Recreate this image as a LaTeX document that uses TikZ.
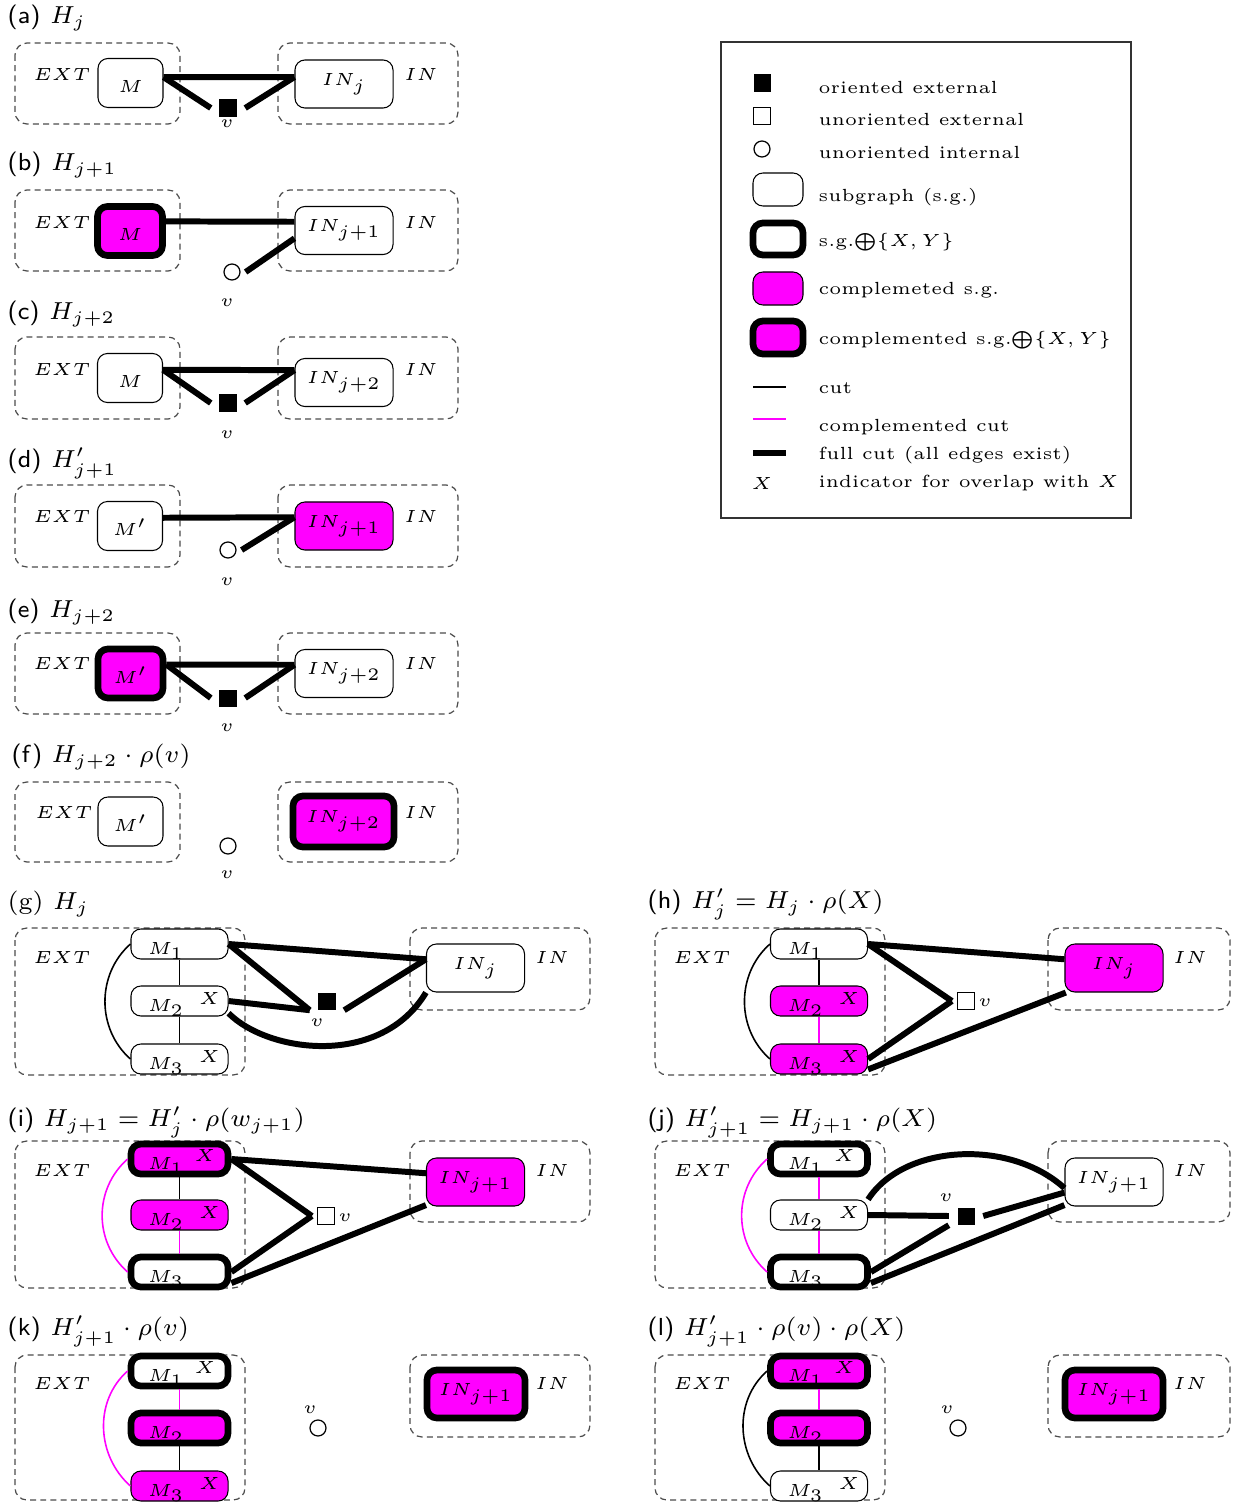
\documentclass[tikz,border=0pt]{standalone}
\usepackage{amsmath}
\usepackage{tikz}
\usetikzlibrary{calc}
\definecolor{cmag}{RGB}{255,0,255}

\begin{document}
\begin{tikzpicture}[x=0.01cm, y=-0.01cm,
  font=\fontsize{5}{6}\selectfont,
  zone/.style={draw=black!70, line width=0.35pt, dash pattern=on 1.7pt off 1.2pt, rounded corners=0.12cm},
  ttl/.style={anchor=west, inner sep=0pt, font=\fontsize{7}{8.4}\selectfont},
  txt/.style={inner sep=0pt},
  sg/.style={draw, line width=0.3pt, rounded corners=0.1cm, inner sep=0pt, fill=white},
  sgxy/.style={line width=1.9pt},
  compl/.style={fill=cmag},
  mbig/.style={sg, minimum width=0.65cm, minimum height=0.49cm, text height=5.6pt, text depth=0pt},
  inbig/.style={sg, minimum width=0.98cm, minimum height=0.48cm},
  msg/.style={sg, minimum height=0.30cm, text width=0.63cm, align=left, inner xsep=0.17cm, inner ysep=0pt, text height=6pt, text depth=0pt},
  ovl/.style={label={[name=#1, anchor=center, inner sep=0pt, xshift=0.3cm, yshift=0.03cm]center:$X$}},
  ovlk/.style={label={[name=#1, anchor=center, inner sep=0pt, xshift=0.255cm, yshift=0.04cm]center:$X$}},
  oext/.style={fill=black, minimum size=0.17cm, inner sep=0pt},
  uext/.style={draw, line width=0.35pt, fill=white, minimum size=0.17cm, inner sep=0pt},
  uint/.style={circle, draw, line width=0.35pt, fill=white, minimum size=0.16cm, inner sep=0pt},
  cutl/.style={line width=0.45pt},
  ccutl/.style={cutl, draw=cmag},
  fullcut/.style={line width=1.7pt}
]
\useasboundingbox (0,0) rectangle (1239,1503);

% (a)
\node[ttl] (ta) at (7,18) {\textsf{(a)} $H_j$};
\draw[zone] (15,43) rectangle (180,124);
\draw[zone] (278,43) rectangle (458,124);
\node[txt] (aext) at (62,74) {$EXT$};
\node[txt] (ain) at (421,74) {$IN$};
\node[mbig] (am) at (130.5,83) {$M$};
\node[inbig] (abox) at (344,84) {$IN_j$};
\node[oext] (av) at (228,108) {};
\node[txt] (avl) at (227,124) {$v$};
\draw[fullcut] (am.10) -- (abox.172);
\draw[fullcut] (am.10) -- ([xshift=-0.08cm]av.west);
\draw[fullcut] ([xshift=0.08cm]av.east) -- (abox.172);

% (b)
\node[ttl] (tb) at (7,165) {\textsf{(b)} $H_{j+1}$};
\draw[zone] (15,190) rectangle (180,271);
\draw[zone] (278,190) rectangle (458,271);
\node[txt] (bext) at (62,222) {$EXT$};
\node[txt] (bin) at (421,222) {$IN$};
\node[mbig, compl, sgxy] (bm) at (130,231) {$M$};
\node[inbig] (bbox) at (344,230.5) {$IN_{j+1}$};
\node[uint] (bv) at (232,272) {};
\node[txt] (bvl) at (227,303) {$v$};
\draw[fullcut] (bm.15) -- (bbox.170);
\draw[fullcut] ([xshift=0.05cm]bv.east) -- (bbox.189);

% (c)
\node[ttl] (tc) at (7,314) {\textsf{(c)} $H_{j+2}$};
\draw[zone] (15,337) rectangle (180,419);
\draw[zone] (278,337) rectangle (458,419);
\node[txt] (cext) at (62,369) {$EXT$};
\node[txt] (cin) at (421,369) {$IN$};
\node[mbig] (cm) at (130,378) {$M$};
\node[inbig] (cbox) at (344,382.5) {$IN_{j+2}$};
\node[oext] (cv) at (228,403) {};
\node[txt] (cvl) at (227,435) {$v$};
\draw[fullcut] (cm.14) -- (cbox.166);
\draw[fullcut] (cm.14) -- ([xshift=-0.08cm]cv.west);
\draw[fullcut] ([xshift=0.08cm]cv.east) -- (cbox.166);

% (d)
\node[ttl] (td) at (7,463) {\textsf{(d)} $H'_{j+1}$};
\draw[zone] (15,485) rectangle (180,567);
\draw[zone] (278,485) rectangle (458,567);
\node[txt] (dext) at (62,516) {$EXT$};
\node[txt] (din) at (421,516) {$IN$};
\node[mbig] (dm) at (130,526) {$M'$};
\node[inbig, compl] (dbox) at (344,526) {$IN_{j+1}$};
\node[uint] (dv) at (228,550) {};
\node[txt] (dvl) at (227,582) {$v$};
\draw[fullcut] (dm.14) -- (dbox.170);
\draw[fullcut] ([xshift=0.05cm]dv.east) -- (dbox.170);

% (e)
\node[ttl] (te) at (7,612) {\textsf{(e)} $H_{j+2}$};
\draw[zone] (15,633) rectangle (180,714);
\draw[zone] (278,633) rectangle (458,714);
\node[txt] (eext) at (62,663) {$EXT$};
\node[txt] (ein) at (421,663) {$IN$};
\node[mbig, compl, sgxy] (em) at (130.5,673.5) {$M'$};
\node[inbig] (ebox) at (344,673.5) {$IN_{j+2}$};
\node[oext] (ev) at (228,698) {};
\node[txt] (evl) at (227,728) {$v$};
\draw[fullcut] (em.14) -- (ebox.170);
\draw[fullcut] (em.14) -- ([xshift=-0.08cm]ev.west);
\draw[fullcut] ([xshift=0.08cm]ev.east) -- (ebox.170);

% (f)
\node[ttl] (tf) at (11,757) {\textsf{(f)} $H_{j+2}\cdot\rho(v)$};
\draw[zone] (15,782) rectangle (180,862);
\draw[zone] (278,782) rectangle (458,862);
\node[txt] (fext) at (64,812) {$EXT$};
\node[txt] (fin) at (421,812) {$IN$};
\node[mbig] (fm) at (130.5,821.5) {$M'$};
\node[inbig, compl, sgxy, minimum width=1.01cm, minimum height=0.51cm] (fbox) at (343.5,821.5) {$IN_{j+2}$};
\node[uint] (fv) at (228,846) {};
\node[txt] (fvl) at (227,875) {$v$};

% (g)
\node[ttl] (tg) at (7,904) {(g) $H_j$};
\draw[zone] (15,928) rectangle (245,1075);
\draw[zone] (410,928) rectangle (590,1010);
\node[txt] (gext) at (62,957) {$EXT$};
\node[txt] (gin) at (552,957) {$IN$};
\node[msg] (gm1) at (179.5,944) {$M_1$};
\node[msg, ovl=gx2] (gm2) at (179.5,1001) {$M_2$};
\node[msg, ovl=gx3] (gm3) at (179.5,1059) {$M_3$};
\node[inbig] (gbox) at (475.5,968) {$IN_j$};
\node[oext] (gv) at (327,1001) {};
\node[txt] (gvl) at (317,1023) {$v$};
\draw[cutl] (gm1) -- (gm2);
\draw[cutl] (gm2) -- (gm3);
\draw[cutl] (gm1.west) .. controls +(-34,30) and +(-34,-30) .. (gm3.west);
\draw[fullcut] (gm1.east) -- (gbox.170);
\draw[fullcut] (gm1.east) -- ([xshift=-0.08cm]gv.south west);
\draw[fullcut] (gm2.east) -- ([xshift=-0.08cm]gv.south west);
\draw[fullcut] ([xshift=0.08cm]gv.south east) -- (gbox.170);
\draw[fullcut] (gm2.-14) .. controls +(40,40) and +(-45,75) .. (gbox.south west);

% (h)
\node[ttl] (th) at (647,904) {\textsf{(h)} $H'_j = H_j\cdot\rho(X)$};
\draw[zone] (655,928) rectangle (885,1075);
\draw[zone] (1048,928) rectangle (1230,1010);
\node[txt] (hext) at (702,957) {$EXT$};
\node[txt] (hin) at (1190,957) {$IN$};
\node[msg] (hm1) at (819,944) {$M_1$};
\node[msg, compl, ovl=hx2] (hm2) at (819,1001) {$M_2$};
\node[msg, compl, ovl=hx3] (hm3) at (819,1059) {$M_3$};
\node[inbig, compl] (hbox) at (1114,968) {$IN_j$};
\node[uext] (hv) at (966,1001) {};
\node[txt] (hvl) at (985,1003) {$v$};
\draw[cutl] (hm1) -- (hm2);
\draw[ccutl] (hm2) -- (hm3);
\draw[cutl] (hm1.west) .. controls +(-34,30) and +(-34,-30) .. (hm3.west);
\draw[fullcut] (hm1.east) -- (hbox.170);
\draw[fullcut] (hm1.east) -- ([xshift=-0.05cm]hv.west);
\draw[fullcut] (hm3.east) -- ([xshift=-0.05cm]hv.west);
\draw[fullcut] (hm3.-12) -- (hbox.207);

% (i)
\node[ttl] (ti) at (7,1122) {\textsf{(i)} $H_{j+1} = H'_j\cdot\rho(w_{j+1})$};
\draw[zone] (15,1141) rectangle (245,1288);
\draw[zone] (410,1141) rectangle (590,1222);
\node[txt] (iext) at (62,1170) {$EXT$};
\node[txt] (iin) at (552,1170) {$IN$};
\node[msg, compl, sgxy, ovlk=ix1] (im1) at (179.5,1159) {$M_1$};
\node[msg, compl, ovl=ix2] (im2) at (179.5,1215) {$M_2$};
\node[msg, sgxy] (im3) at (179.5,1272) {$M_3$};
\node[inbig, compl] (ibox) at (475.5,1182) {$IN_{j+1}$};
\node[uext] (iv) at (326,1216) {};
\node[txt] (ivl) at (345,1218) {$v$};
\draw[cutl] (im1) -- (im2);
\draw[ccutl] (im2) -- (im3);
\draw[ccutl] (im1.west) .. controls +(-34,30) and +(-34,-30) .. (im3.west);
\draw[fullcut] (im1.east) -- (ibox.170);
\draw[fullcut] (im1.east) -- ([xshift=-0.05cm]iv.west);
\draw[fullcut] (im3.east) -- ([xshift=-0.05cm]iv.west);
\draw[fullcut] (im3.-12) -- (ibox.205);

% (j)
\node[ttl] (tj) at (647,1122) {\textsf{(j)} $H'_{j+1} = H_{j+1}\cdot\rho(X)$};
\draw[zone] (655,1141) rectangle (885,1288);
\draw[zone] (1048,1141) rectangle (1230,1222);
\node[txt] (jext) at (702,1170) {$EXT$};
\node[txt] (jin) at (1190,1170) {$IN$};
\node[msg, sgxy, ovlk=jx1] (jm1) at (819,1159) {$M_1$};
\node[msg, ovl=jx2] (jm2) at (819,1215) {$M_2$};
\node[msg, sgxy] (jm3) at (819,1272) {$M_3$};
\node[inbig] (jbox) at (1114,1182) {$IN_{j+1}$};
\node[oext] (jv) at (966,1216) {};
\node[txt] (jvl) at (946,1198) {$v$};
\draw[ccutl] (jm1) -- (jm2);
\draw[ccutl] (jm2) -- (jm3);
\draw[ccutl] (jm1.west) .. controls +(-34,30) and +(-34,-30) .. (jm3.west);
\draw[fullcut] (jm2.east) -- ([xshift=-0.08cm]jv.west);
\draw[fullcut] ([xshift=0.08cm]jv.east) -- (jbox.192);
\draw[fullcut] (jm3.east) -- ([xshift=-0.08cm]jv.south west);
\draw[fullcut] (jm3.-12) -- (jbox.205);
\draw[fullcut] (jm2.north east) .. controls +(35,-55) and +(-55,-50) .. (jbox.187);

% (k)
\node[ttl] (tk) at (7,1331) {\textsf{(k)} $H'_{j+1}\cdot\rho(v)$};
\draw[zone] (15,1355) rectangle (245,1500);
\draw[zone] (410,1355) rectangle (590,1437);
\node[txt] (kext) at (62,1383) {$EXT$};
\node[txt] (kin) at (552,1383) {$IN$};
\node[msg, sgxy, ovlk=kx1] (km1) at (179.5,1371) {$M_1$};
\node[msg, compl, sgxy] (km2) at (179.5,1428) {$M_2$};
\node[msg, compl, ovl=kx3] (km3) at (179.5,1486) {$M_3$};
\node[inbig, compl, sgxy] (kbox) at (476,1394) {$IN_{j+1}$};
\node[uint] (kv) at (318,1428) {};
\node[txt] (kvl) at (310,1410) {$v$};
\draw[ccutl] (km1) -- (km2);
\draw[cutl] (km2) -- (km3);
\draw[ccutl] (km1.west) .. controls +(-34,30) and +(-34,-30) .. (km3.west);

% (l)
\node[ttl] (tl) at (647,1331) {\textsf{(l)} $H'_{j+1}\cdot\rho(v)\cdot\rho(X)$};
\draw[zone] (655,1355) rectangle (885,1500);
\draw[zone] (1048,1355) rectangle (1230,1437);
\node[txt] (lext) at (702,1383) {$EXT$};
\node[txt] (lin) at (1190,1383) {$IN$};
\node[msg, compl, sgxy, ovlk=lx1] (lm1) at (819,1371) {$M_1$};
\node[msg, compl, sgxy] (lm2) at (819,1428) {$M_2$};
\node[msg, ovl=lx3] (lm3) at (819,1486) {$M_3$};
\node[inbig, compl, sgxy] (lbox) at (1114,1394) {$IN_{j+1}$};
\node[uint] (lv) at (958,1428) {};
\node[txt] (lvl) at (947,1410) {$v$};
\draw[ccutl] (lm1) -- (lm2);
\draw[cutl] (lm2) -- (lm3);
\draw[cutl] (lm1.west) .. controls +(-34,30) and +(-34,-30) .. (lm3.west);

% legend
\node[draw=black!80, line width=0.4pt, minimum width=4.1cm, minimum height=4.76cm, inner sep=0pt] (legend) at (926,280) {};
\node[oext] (s1) at (762,83) {};
\node[txt, anchor=west] (l1) at (818,87) {oriented external};
\node[uext] (s2) at (762,116) {};
\node[txt, anchor=west] (l2) at (818,119) {unoriented external};
\node[uint] (s3) at (762,149) {};
\node[txt, anchor=west] (l3) at (818,152) {unoriented internal};
\node[sg, minimum width=0.5cm, minimum height=0.33cm] (s4) at (778,189.5) {};
\node[txt, anchor=west] (l4) at (818,197) {subgraph (s.g.)};
\node[sg, sgxy, minimum width=0.5cm, minimum height=0.32cm] (s5) at (778,239) {};
\node[txt, anchor=west] (l5) at (818,242) {s.g.$\bigoplus\{X,Y\}$};
\node[sg, compl, minimum width=0.5cm, minimum height=0.33cm] (s6) at (778,288.5) {};
\node[txt, anchor=west] (l6) at (818,290) {complemeted s.g.};
\node[sg, compl, sgxy, minimum width=0.5cm, minimum height=0.33cm] (s7) at (778,337.5) {};
\node[txt, anchor=west] (l7) at (818,340) {complemented s.g.$\bigoplus\{X,Y\}$};
\coordinate (s8a) at (753,387);
\coordinate (s8b) at (786,387);
\draw[cutl] (s8a) -- (s8b);
\node[txt, anchor=west] (l8) at (818,388) {cut};
\coordinate (s9a) at (753,419);
\coordinate (s9b) at (786,419);
\draw[ccutl] (s9a) -- (s9b);
\node[txt, anchor=west] (l9) at (818,427) {complemented cut};
\coordinate (s10a) at (753,453);
\coordinate (s10b) at (786,453);
\draw[fullcut] (s10a) -- (s10b);
\node[txt, anchor=west] (l10) at (818,455) {full cut (all edges exist)};
\node[txt] (s11) at (762,483) {$X$};
\node[txt, anchor=west] (l11) at (818,483) {indicator for overlap with $X$};
\end{tikzpicture}
\end{document}
